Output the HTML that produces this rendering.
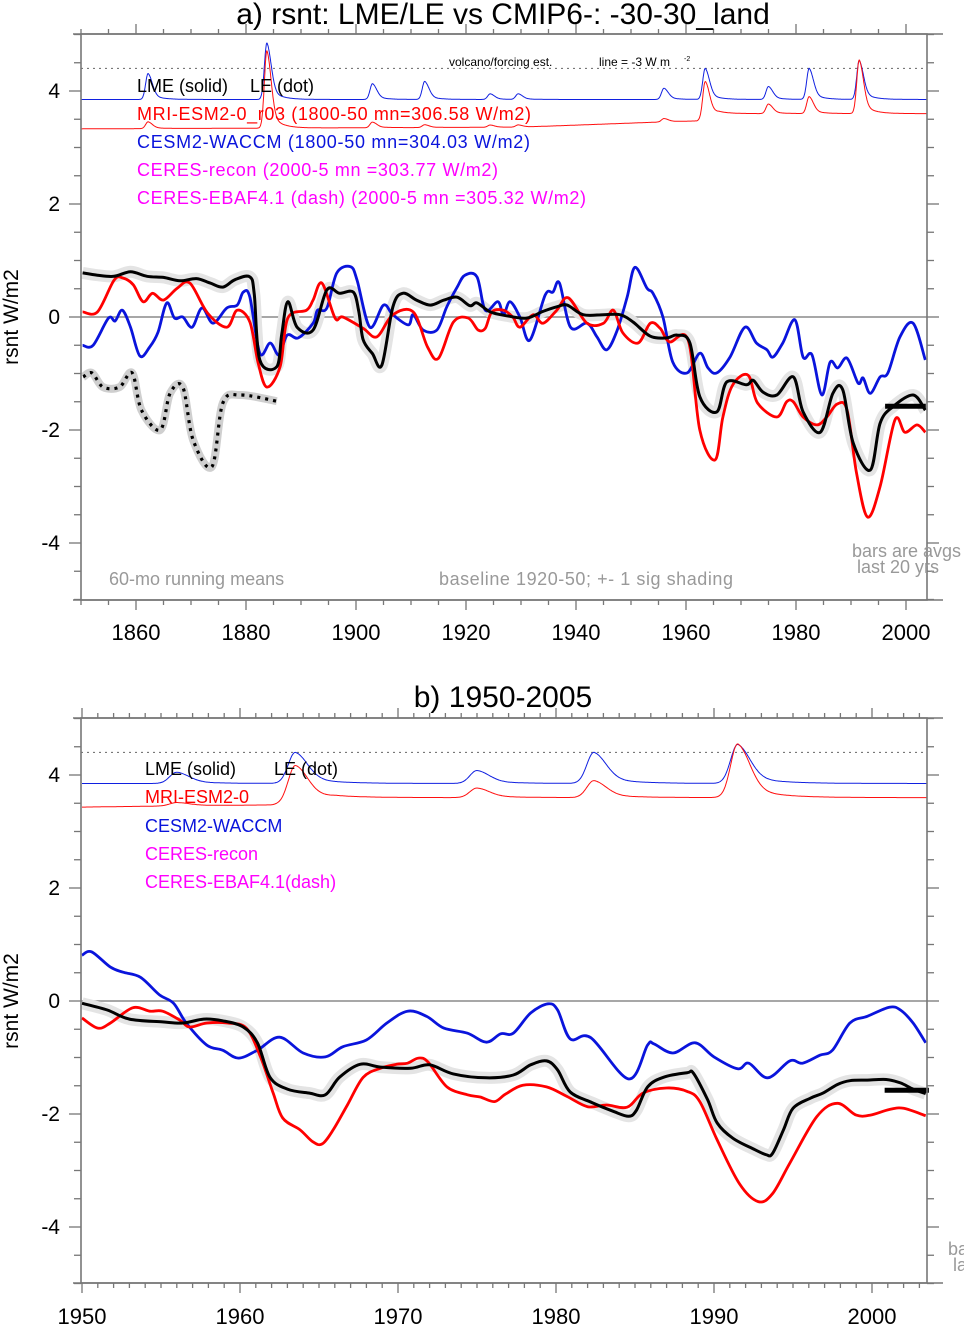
<!DOCTYPE html>
<html><head><meta charset="utf-8"><title>rsnt LME/LE vs CMIP6</title>
<style>
body{margin:0;background:#fff;}
svg{display:block;font-family:"Liberation Sans",Arial,sans-serif;}
</style></head>
<body>
<svg id="chart" width="964" height="1325" viewBox="0 0 964 1325" xmlns="http://www.w3.org/2000/svg">
<defs>
<clipPath id="clipA"><rect x="81" y="34" width="846" height="566"/></clipPath>
<clipPath id="clipB"><rect x="81" y="718" width="846" height="565"/></clipPath>
</defs>
<g id="panelA"></g>
<g id="panelB"></g>
</svg>
<script>
// ---------- Panel a data (anomalies, W/m2) ----------
const lmeYearsA=[1850.3,1853,1856,1859,1862,1865,1868,1871,1873.5,1875.8,1878,1880.7,1881.5,1882.5,1885.6,1886.5,1887.6,1889.3,1892.2,1894.7,1897,1899.5,1900.5,1901.3,1903,1904.7,1906.7,1908.5,1911,1913.5,1916,1918.4,1920.7,1922,1924.4,1927.5,1931,1934,1936.5,1938.4,1941.3,1945,1948,1950.4,1953.5,1956.5,1958.4,1960.7,1962.5,1965.6,1967.4,1971,1972.2,1974,1976.5,1979.5,1981.3,1984.4,1986.7,1988.5,1990.4,1993.5,1995.3,1997.6,2001.3,2003.5];
const lmeValsA=[0.78,0.74,0.72,0.8,0.72,0.7,0.64,0.68,0.6,0.53,0.66,0.71,0.4,-0.76,-0.88,-0.3,0.27,-0.18,-0.23,0.48,0.42,0.44,0.1,-0.4,-0.65,-0.85,0.18,0.42,0.3,0.21,0.3,0.35,0.2,0.25,0.09,0.02,-0.02,0.1,0.18,0.21,0.04,0.04,0.04,-0.09,-0.34,-0.37,-0.32,-0.46,-1.41,-1.68,-1.15,-1.2,-1.12,-1.33,-1.38,-1.06,-1.68,-2.04,-1.35,-1.29,-2.23,-2.71,-1.88,-1.59,-1.38,-1.65];
const mriYearsA=[1850.3,1853,1856,1857.6,1859.5,1861.3,1863,1865,1867.5,1869.8,1873,1876.5,1878.4,1880.7,1882.2,1883.8,1886.2,1887.6,1891,1892.2,1893.8,1896.2,1897.6,1901.3,1903.8,1906.7,1910.4,1913,1915,1917.7,1920.4,1922.2,1923.5,1924.7,1926.8,1928.5,1929.8,1932.2,1934,1936.5,1938.6,1942,1945,1946.8,1948.5,1951.3,1953.5,1955.3,1957,1960.4,1962.5,1965.3,1966.7,1968.5,1971.3,1973,1976.5,1978.3,1979.5,1981.3,1983.8,1985.6,1987.5,1989.3,1991,1993,1995.3,1998,1999.8,2002,2003.5];
const mriValsA=[0.09,0.09,0.65,0.69,0.57,0.27,0.42,0.3,0.51,0.6,0.07,-0.18,0.12,-0.09,-0.81,-1.24,-0.88,-0.02,0.12,0.3,0.6,-0.02,0,-0.2,-0.35,0.04,0.09,-0.53,-0.73,-0.09,-0.02,-0.23,-0.2,0.09,0.12,0,-0.18,0.04,-0.11,0.12,0.34,-0.11,-0.11,0.12,-0.28,-0.46,-0.11,-0.2,-0.44,-0.41,-2.0,-2.53,-1.77,-1.2,-1.03,-1.52,-1.77,-1.5,-1.5,-1.77,-1.91,-1.77,-1.54,-1.65,-2.76,-3.54,-3.0,-1.82,-2.04,-1.91,-2.04];
const cesmYearsA=[1850.3,1852.2,1855,1856.2,1857.5,1859,1860.7,1862.5,1864,1865.6,1867,1868.5,1870.2,1872,1874,1876.5,1878.4,1879.5,1880.7,1882.5,1884.4,1886,1887.5,1889.5,1892.2,1893,1894.7,1896.5,1899,1900.2,1902.5,1905,1906.7,1909.5,1910.4,1912.2,1914.7,1916.5,1918.4,1919.8,1922,1923.5,1925.8,1926.8,1928,1929.8,1931.6,1934.4,1935.8,1937,1939,1942,1943.8,1945.6,1947.5,1949.3,1950.7,1952.9,1954,1955.8,1957.6,1960.2,1962.5,1964,1965.6,1968,1970.7,1972.8,1974.7,1975.8,1977.6,1979.8,1981.3,1982.9,1984.7,1986.2,1987.6,1989.3,1991.3,1992.2,1993.5,1995.3,1996.7,1998.9,2001.3,2003.5];
const cesmValsA=[-0.5,-0.5,-0.02,-0.07,0.12,-0.18,-0.69,-0.53,-0.27,0.25,-0.02,0,-0.18,0.16,-0.11,0.16,0.21,0.44,0.35,-0.64,-0.46,-0.67,-0.32,-0.37,-0.11,0.12,0.16,0.78,0.89,0.65,-0.18,0.21,0.04,-0.14,0.04,-0.23,-0.23,0.18,0.53,0.74,0.71,0.12,0.27,0.04,0.27,0,-0.41,0.39,0.44,0.6,-0.18,-0.11,-0.35,-0.58,-0.23,0.35,0.88,0.51,0.42,0,-0.8,-0.99,-0.64,-0.9,-0.99,-0.71,-0.18,-0.46,-0.58,-0.71,-0.46,-0.05,-0.71,-0.67,-1.38,-0.8,-0.9,-0.73,-1.17,-1.08,-1.35,-1.06,-0.99,-0.35,-0.11,-0.76];
const leYearsA=[1850.4,1852,1854,1857,1859.3,1861,1864.4,1866.2,1868.5,1870.4,1873.8,1875.8,1879,1885.6];
const leValsA=[-1.06,-0.99,-1.24,-1.24,-0.99,-1.65,-2.0,-1.35,-1.24,-2.18,-2.65,-1.52,-1.38,-1.49];
const barA={start:1996.2,end:2003.6,value:-1.58};
// ---------- Panel b data ----------
const lmeYearsB=[1950,1951.6,1953,1955.1,1956.4,1957.7,1958.9,1960.2,1961.1,1961.9,1963,1964.4,1965.4,1966.3,1967.6,1968.9,1970.8,1972,1973.5,1975.6,1977.3,1978.4,1979.4,1980.1,1980.9,1982.3,1983.6,1984.6,1985.1,1985.8,1986.8,1988.3,1988.7,1989.6,1990.2,1991.2,1992.5,1993.3,1993.7,1994.4,1995,1996.1,1996.9,1997.8,1998.6,1999.7,2000.9,2001.8,2002.6,2003.4];
const lmeValsB=[-0.04,-0.16,-0.32,-0.37,-0.39,-0.32,-0.35,-0.46,-0.74,-1.35,-1.56,-1.63,-1.66,-1.35,-1.12,-1.17,-1.19,-1.13,-1.29,-1.36,-1.31,-1.13,-1.06,-1.22,-1.61,-1.8,-1.95,-2.04,-1.93,-1.52,-1.35,-1.27,-1.28,-1.75,-2.16,-2.43,-2.62,-2.72,-2.7,-2.28,-1.9,-1.72,-1.63,-1.48,-1.41,-1.4,-1.39,-1.45,-1.56,-1.64];
const mriYearsB=[1950,1951,1951.8,1953.2,1954.3,1955.1,1956.2,1956.8,1957.9,1959.2,1960.4,1961.3,1962.1,1962.7,1963.8,1964.6,1965.2,1965.9,1966.8,1967.8,1968.9,1969.9,1970.6,1971.3,1971.9,1973.1,1974.4,1975.2,1976.1,1976.8,1977.9,1979.4,1980.7,1982,1983.2,1984.5,1985.5,1987,1988.3,1989.1,1990.2,1991.6,1992.8,1993.7,1994.8,1996.5,1997.8,1999,1999.9,2001.1,2002,2003.4];
const mriValsB=[-0.3,-0.48,-0.39,-0.12,-0.18,-0.18,-0.34,-0.46,-0.39,-0.39,-0.48,-0.99,-1.63,-2.07,-2.28,-2.49,-2.53,-2.28,-1.84,-1.35,-1.19,-1.12,-1.1,-1.01,-1.08,-1.52,-1.66,-1.7,-1.78,-1.65,-1.49,-1.52,-1.69,-1.87,-1.84,-1.88,-1.63,-1.54,-1.6,-1.78,-2.46,-3.23,-3.55,-3.41,-2.87,-2.05,-1.81,-2.02,-2.02,-1.92,-1.9,-2.03];
const cesmYearsB=[1950,1950.6,1951.8,1952.6,1953.7,1954.9,1955.8,1956.6,1957.9,1958.9,1959.9,1961.1,1962.5,1964,1965.4,1966.5,1968,1969.3,1970.6,1971.8,1972.9,1974.4,1975.6,1976.5,1977.3,1978.4,1979.5,1980.1,1980.9,1982.2,1984.6,1985.8,1986.2,1987.4,1988.8,1990,1991.5,1992.2,1993.4,1994.8,1995.6,1996.7,1997.5,1998.6,1999.7,2001.1,2001.8,2002.6,2003.4];
const cesmValsB=[0.81,0.87,0.6,0.51,0.42,0.11,-0.04,-0.39,-0.78,-0.87,-1.01,-0.87,-0.64,-0.92,-0.99,-0.81,-0.69,-0.39,-0.18,-0.27,-0.48,-0.57,-0.73,-0.58,-0.57,-0.21,-0.05,-0.16,-0.67,-0.65,-1.38,-0.78,-0.76,-0.92,-0.74,-0.99,-1.2,-1.1,-1.36,-1.06,-1.1,-0.96,-0.87,-0.39,-0.27,-0.11,-0.16,-0.39,-0.74];
const barB={start:2000.8,end:2003.6,value:-1.58};
// ---------- Volcanic forcing estimate (display units) ----------
const volcYears=[1862.2,1883.8,1903,1912.5,1924.4,1929.5,1956,1963.5,1975,1982.4,1991.5];
const volcBlueAmp=[0.46,1.0,0.28,0.32,0.1,0.1,0.2,0.55,0.23,0.55,0.69];
const volcRedAmp=[0.12,1.37,0.1,0.05,0.04,0.04,0.06,0.65,0.17,0.3,0.95];
const blueBase=3.85;
const redBaseYears=[1850,1930,1955,1962,1966,2004];
const redBaseVals=[3.33,3.36,3.45,3.47,3.6,3.6];
const forcingLine=4.4;

const NS="http://www.w3.org/2000/svg";
function mk(parent,tag,attrs){const e=document.createElementNS(NS,tag);for(const k in attrs)e.setAttribute(k,attrs[k]);parent.appendChild(e);return e;}
function smoothPath(pts){
  if(pts.length<2)return "";
  let d="M"+pts[0][0].toFixed(1)+","+pts[0][1].toFixed(1);
  for(let i=0;i<pts.length-1;i++){
    const p0=pts[i-1]||pts[i],p1=pts[i],p2=pts[i+1],p3=pts[i+2]||p2;
    const c1x=p1[0]+(p2[0]-p0[0])/6,c1y=p1[1]+(p2[1]-p0[1])/6;
    const c2x=p2[0]-(p3[0]-p1[0])/6,c2y=p2[1]-(p3[1]-p1[1])/6;
    d+=" C"+c1x.toFixed(1)+","+c1y.toFixed(1)+" "+c2x.toFixed(1)+","+c2y.toFixed(1)+" "+p2[0].toFixed(1)+","+p2[1].toFixed(1);
  }
  return d;
}
function interp(xs,ys,x){if(x<=xs[0])return ys[0];for(let i=1;i<xs.length;i++){if(x<=xs[i]){const t=(x-xs[i-1])/(xs[i]-xs[i-1]);return ys[i-1]+t*(ys[i]-ys[i-1]);}}return ys[ys.length-1];}
function kernel(t){return t<0?Math.exp(-t*t/0.4):(0.75*Math.exp(-t*t/1.2)+0.25*Math.exp(-t/1.8));}
function forcing(yr,amps){let s=0;for(let i=0;i<volcYears.length;i++)s+=amps[i]*kernel(yr-volcYears[i]);return s;}

function drawPanel(cfg){
  const g=document.getElementById(cfg.id);
  const X=y=>cfg.x0+(y-cfg.yr0)*cfg.pxYr;
  const Y=v=>cfg.yZero-v*56.5;
  const L=81,R=927,T=cfg.top,B=cfg.bottom;
  const z=mk(g,'line',{x1:L,x2:R,y1:Y(0),y2:Y(0),stroke:'#8a8a8a','stroke-width':1.6});
  
  const plot=mk(g,'g',{'clip-path':'url(#'+cfg.clip+')'});
  
  const fl=mk(plot,'line',{x1:L,x2:R,y1:Y(forcingLine),y2:Y(forcingLine),stroke:'#666','stroke-width':1,'stroke-dasharray':'2,4'});
  
  const bp=[],rp=[];
  for(let yr=cfg.yr0;yr<=cfg.yr1;yr+=0.1){
    bp.push([X(yr),Y(blueBase+forcing(yr,volcBlueAmp))]);
    rp.push([X(yr),Y(interp(redBaseYears,redBaseVals,yr)+forcing(yr,volcRedAmp))]);
  }
  const fb=mk(plot,'path',{d:smoothPath(bp),fill:'none',stroke:'#1020e0','stroke-width':1});
  
  const fr=mk(plot,'path',{d:smoothPath(rp),fill:'none',stroke:'#ff1010','stroke-width':1});
  
  const pts=(ys,vs)=>ys.map((y,i)=>[X(y),Y(vs[i])]);
  if(cfg.leY){
    const lb=mk(plot,'path',{d:smoothPath(pts(cfg.leY,cfg.leV)),fill:'none',stroke:'#cfcfcf','stroke-width':8,'stroke-linejoin':'round'});
    
    const ll=mk(plot,'path',{d:smoothPath(pts(cfg.leY,cfg.leV)),fill:'none',stroke:'#000','stroke-width':3.2,'stroke-dasharray':'3,5'});
    
  }
  const sh=mk(plot,'path',{d:smoothPath(pts(cfg.lmeY,cfg.lmeV)),fill:'none',stroke:'#e4e4e4','stroke-width':12,'stroke-linejoin':'round'});
  
  const c=mk(plot,'path',{d:smoothPath(pts(cfg.cesmY,cfg.cesmV)),fill:'none',stroke:'#0a14dc','stroke-width':2.8,'stroke-linejoin':'round'});
  
  const m=mk(plot,'path',{d:smoothPath(pts(cfg.mriY,cfg.mriV)),fill:'none',stroke:'#f00','stroke-width':2.8,'stroke-linejoin':'round'});
  
  const l=mk(plot,'path',{d:smoothPath(pts(cfg.lmeY,cfg.lmeV)),fill:'none',stroke:'#000','stroke-width':3,'stroke-linejoin':'round'});
  
  const bar=mk(g,'line',{x1:X(cfg.bar.start),x2:X(cfg.bar.end),y1:Y(cfg.bar.value),y2:Y(cfg.bar.value),stroke:'#000','stroke-width':5});
  
  const fr2=mk(g,'rect',{x:L,y:T,width:R-L,height:B-T,fill:'none',stroke:'#777','stroke-width':1.6});
  
  mk(g,'line',{x1:73,x2:943,y1:B,y2:B,stroke:'#777','stroke-width':1.6});
  mk(g,'line',{x1:73,x2:943,y1:T,y2:T,stroke:'#777','stroke-width':1.6});
  for(let v=-5;v<=5.001;v+=0.5){
    const yy=Y(v);if(yy<T-0.5||yy>B+0.5)continue;
    const lab=Math.abs(v%2)<0.01;const len=lab?12:7;
    mk(g,'line',{x1:L-len,x2:L,y1:yy,y2:yy,stroke:'#777','stroke-width':1.3});
    mk(g,'line',{x1:R,x2:R+len,y1:yy,y2:yy,stroke:'#777','stroke-width':1.3});
    if(lab&&Math.abs(v)<4.5){
      const t=mk(g,'text',{x:60,y:yy+7,'text-anchor':'end','font-size':21,fill:'#000'});
      t.textContent=String(Math.round(v));
      
    }
  }
  for(let yr=Math.ceil(cfg.yr0);yr<=cfg.yr1;yr+=cfg.minor){
    const xx=X(yr);if(xx<L-0.5||xx>R+0.5)continue;
    const maj=yr%cfg.major===0;const len=maj?10:5;
    mk(g,'line',{x1:xx,x2:xx,y1:B,y2:B+len,stroke:'#777','stroke-width':1.3});
    mk(g,'line',{x1:xx,x2:xx,y1:T-len,y2:T,stroke:'#777','stroke-width':1.3});
    if(maj){
      const t=mk(g,'text',{x:xx,y:B+cfg.labOff,'text-anchor':'middle','font-size':22,fill:'#000'});
      t.textContent=String(yr);
      
    }
  }
  const yt=mk(g,'text',{x:0,y:0,transform:'translate(18,'+Y(0)+') rotate(-90)','text-anchor':'middle','font-size':21,fill:'#000'});
  yt.textContent='rsnt W/m2';
  
}

drawPanel({id:'panelA',clip:'clipA',x0:81,yr0:1850,yr1:2004,pxYr:5.5,yZero:317,top:34,bottom:600,minor:5,major:20,labOff:40,
  lmeY:lmeYearsA,lmeV:lmeValsA,mriY:mriYearsA,mriV:mriValsA,cesmY:cesmYearsA,cesmV:cesmValsA,leY:leYearsA,leV:leValsA,bar:barA});
drawPanel({id:'panelB',clip:'clipB',x0:82,yr0:1950,yr1:2004,pxYr:15.8,yZero:1001,top:718,bottom:1283,minor:1,major:10,labOff:41,
  lmeY:lmeYearsB,lmeV:lmeValsB,mriY:mriYearsB,mriV:mriValsB,cesmY:cesmYearsB,cesmV:cesmValsB,leY:null,leV:null,bar:barB});

const svg=document.getElementById('chart');
function txt(x,y,s,size,fill,name,anchor,tl){const t=mk(svg,'text',{x:x,y:y,'font-size':size,fill:fill,'text-anchor':anchor||'start'});if(tl)t.setAttribute('textLength',tl);t.textContent=s;return t;}
txt(503,24,'a) rsnt: LME/LE vs CMIP6-: -30-30_land',30,'#000','title-panel-a','middle');
txt(503,707,'b) 1950-2005',30,'#000','title-panel-b','middle');
txt(137,92,'LME (solid)',18,'#000','legend-lme-a');
txt(250,92,'LE (dot)',18,'#000','legend-le-a');
txt(137,120,'MRI-ESM2-0_r03 (1800-50 mn=306.58 W/m2)',18,'#f00','legend-mri-a',null,394);
txt(137,148,'CESM2-WACCM (1800-50 mn=304.03 W/m2)',18,'#0a14dc','legend-cesm-a',null,393);
txt(137,176,'CERES-recon (2000-5 mn =303.77 W/m2)',18,'#ff00ff','legend-ceres-recon-a',null,361);
txt(137,204,'CERES-EBAF4.1 (dash) (2000-5 mn =305.32 W/m2)',18,'#ff00ff','legend-ceres-ebaf-a',null,449);
txt(449,66,'volcano/forcing est.',12,'#000','forcing-label');
txt(599,66,'line = -3 W m',12,'#000','forcing-line-label');
txt(684,61,'-2',7,'#000','forcing-unit-exponent');
txt(109,585,'60-mo running means',18,'#999','running-mean-note');
txt(439,585,'baseline 1920-50; +- 1 sig shading',18,'#999','baseline-note',null,294);
txt(852,557,'bars are avgs',18,'#999','bars-note-1');
txt(857,573,'last 20 yrs',18,'#999','bars-note-2');
txt(145,775,'LME (solid)',18,'#000','legend-lme-b');
txt(274,775,'LE (dot)',18,'#000','legend-le-b');
txt(145,803,'MRI-ESM2-0',18,'#f00','legend-mri-b');
txt(145,832,'CESM2-WACCM',18,'#0a14dc','legend-cesm-b');
txt(145,860,'CERES-recon',18,'#ff00ff','legend-ceres-recon-b');
txt(145,888,'CERES-EBAF4.1(dash)',18,'#ff00ff','legend-ceres-ebaf-b');
txt(948,1255,'ba',18,'#999','bars-note-b-1');
txt(953,1271,'la',18,'#999','bars-note-b-2');
</script>
</body></html>
